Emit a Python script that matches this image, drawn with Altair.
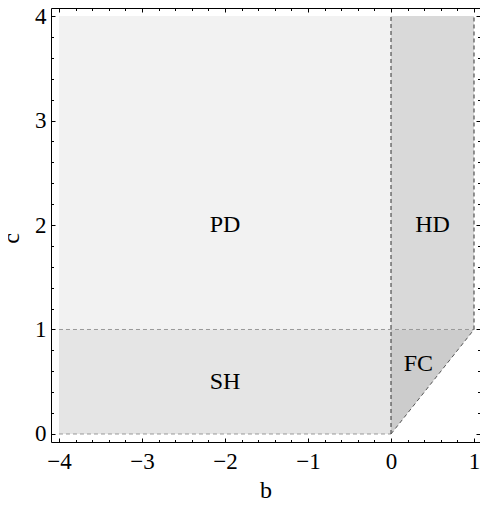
import altair as alt
import pandas as pd

# --- data ---
region_names = ["PD", "SH", "HD"]
region_b0 = [-4, -4, 0]
region_b1 = [0, 0, 1]
region_c0 = [1, 0, 1]
region_c1 = [4, 1, 4]
region_fill = ["#f2f2f2", "#e5e5e5", "#d9d9d9"]

fc_b = [0, 1]
fc_c_low = [0, 1]
fc_c_high = [1, 1]

gray_b0 = [-4, -4]
gray_b1 = [1, 0]
gray_c0 = [1, 0]
gray_c1 = [1, 0]

dark_b0 = [0, 1, 0]
dark_b1 = [0, 1, 1]
dark_c0 = [0, 1, 0]
dark_c1 = [4, 4, 1]
dark_color = ["#333333", "#333333", "#555555"]

label_text = ["PD", "HD", "SH", "FC"]
label_b = [-2, 0.5, -2, 0.33]
label_c = [2, 2, 0.5, 0.67]

x_major = [-4, -3, -2, -1, 0, 1]
y_major = [0, 1, 2, 3, 4]
x_minor = [round(-4 + 0.2 * i, 1) for i in range(26) if i % 5]
y_minor = [round(0.2 * i, 1) for i in range(21) if i % 5]

FONT = "Liberation Serif"

xs = alt.Scale(domain=[-4.096, 1.072], nice=False, zero=False)
ys = alt.Scale(domain=[-0.0766, 4.0766], nice=False, zero=False)


def tick_axis(orient, values, size):
    return alt.Axis(orient=orient, values=values, offset=-size, tickSize=size,
                    ticks=True, labels=False, domain=False, grid=False, title=None,
                    tickColor="black", tickWidth=1, zindex=1)


regions = pd.DataFrame({"name": region_names, "b0": region_b0, "b1": region_b1,
                        "c0": region_c0, "c1": region_c1, "fill": region_fill})
fc = pd.DataFrame({"b": fc_b, "lo": fc_c_low, "hi": fc_c_high})
gray = pd.DataFrame({"b0": gray_b0, "b1": gray_b1, "c0": gray_c0, "c1": gray_c1})
dark = pd.DataFrame({"b0": dark_b0, "b1": dark_b1, "c0": dark_c0, "c1": dark_c1,
                     "col": dark_color})
labels = pd.DataFrame({"t": label_text, "b": label_b, "c": label_c})

main_x = alt.Axis(orient="bottom", values=x_major, title="b", ticks=False, tickSize=0,
                  domain=False, grid=False, labelFont=FONT, labelFontSize=23,
                  labelColor="black", labelFlush=False, labelOverlap=False,
                  labelBaseline="alphabetic", labelPadding=26,
                  titleFont=FONT, titleFontSize=24, titleFontWeight="normal",
                  titleColor="black", titleBaseline="alphabetic", titleY=55)
main_y = alt.Axis(orient="left", values=y_major, title="c", ticks=False, tickSize=0,
                  domain=False, grid=False, labelFont=FONT, labelFontSize=23,
                  labelColor="black", labelFlush=False, labelOverlap=False,
                  labelPadding=5,
                  titleFont=FONT, titleFontSize=24, titleFontWeight="normal",
                  titleColor="black", titleX=-28, titleY=230)

rects = alt.Chart(regions).mark_rect(strokeWidth=0).encode(
    x=alt.X("b0:Q", scale=xs, axis=main_x),
    x2="b1",
    y=alt.Y("c0:Q", scale=ys, axis=main_y),
    y2="c1",
    fill=alt.Fill("fill:N", scale=None),
)

area = alt.Chart(fc).mark_area(color="#cccccc", opacity=1).encode(
    x=alt.X("b:Q", scale=xs, axis=tick_axis("bottom", x_major, 4)),
    y=alt.Y("lo:Q", scale=ys, axis=tick_axis("left", y_major, 4)),
    y2="hi",
)

gray_rules = alt.Chart(gray).mark_rule(color="#999999", strokeDash=[4, 3], strokeWidth=1).encode(
    x=alt.X("b0:Q", scale=xs, axis=tick_axis("top", x_major, 4)),
    x2="b1",
    y=alt.Y("c0:Q", scale=ys, axis=tick_axis("right", y_major, 4)),
    y2="c1",
)

dark_rules = alt.Chart(dark).mark_rule(strokeDash=[4, 3], strokeWidth=1).encode(
    x=alt.X("b0:Q", scale=xs, axis=tick_axis("top", x_minor, 2.5)),
    x2="b1",
    y=alt.Y("c0:Q", scale=ys, axis=tick_axis("right", y_minor, 2.5)),
    y2="c1",
    color=alt.Color("col:N", scale=None),
)

texts = alt.Chart(labels).mark_text(font=FONT, fontSize=24, color="black").encode(
    x=alt.X("b:Q", scale=xs, axis=tick_axis("bottom", x_minor, 2.5)),
    y=alt.Y("c:Q", scale=ys, axis=tick_axis("left", y_minor, 2.5)),
    text="t:N",
)

chart = alt.layer(rects, area, gray_rules, dark_rules, texts).resolve_axis(
    x="independent", y="independent"
).properties(
    width=429, height=434,
    autosize=alt.AutoSizeParams(type="none"),
    padding={"left": 43, "top": 0, "right": 0, "bottom": 58},
).configure_view(stroke="black", strokeWidth=1)

chart.save("out.html", embed_options={"renderer": "svg", "actions": False})
